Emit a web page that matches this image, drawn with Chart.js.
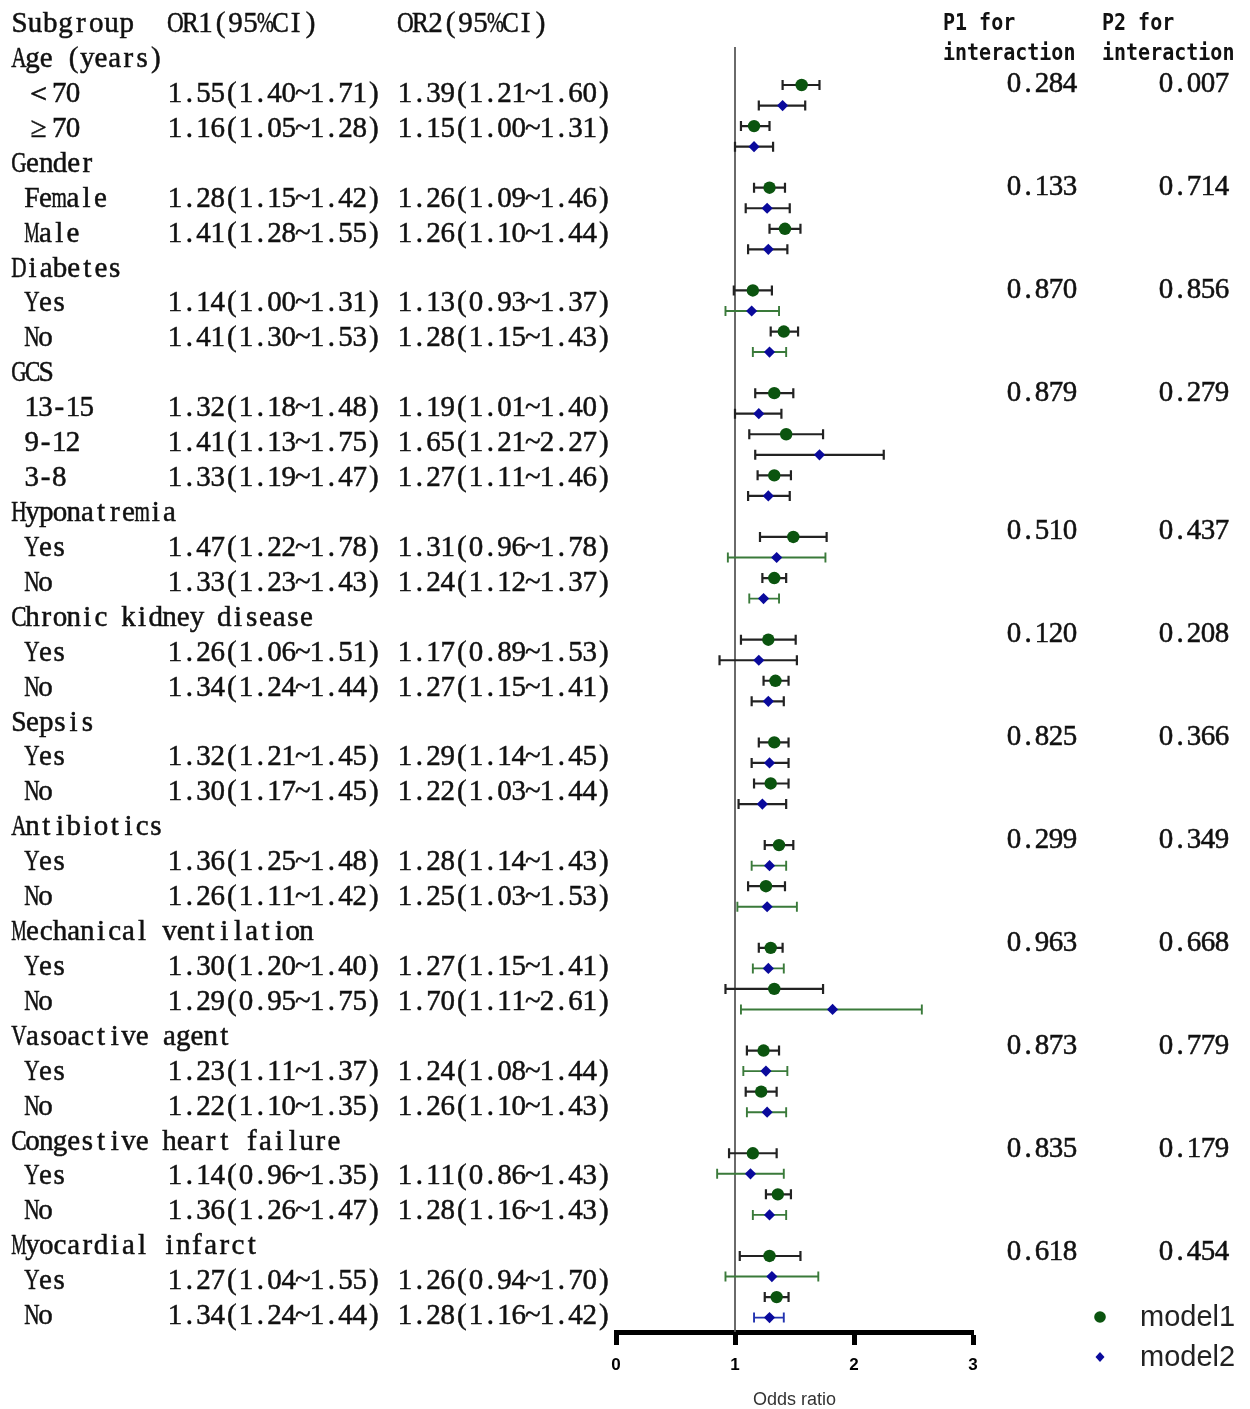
<!DOCTYPE html>
<html lang="en">
<head>
<meta charset="UTF-8">
<title>Subgroup forest plot</title>
<script src="https://cdn.jsdelivr.net/npm/chart.js"></script>
<style>
  html, body { margin: 0; padding: 0; background: #fff; }
  #wrap { width: 1250px; height: 1409px; }
</style>
</head>
<body>
<div id="wrap"><canvas id="forest" width="1250" height="1409"></canvas></div>
<script>
// ---- table text ----
const groups = ['Age (years)', 'Gender', 'Diabetes', 'GCS', 'Hyponatremia', 'Chronic kidney disease',
  'Sepsis', 'Antibiotics', 'Mechanical ventilation', 'Vasoactive agent', 'Congestive heart failure', 'Myocardial infarct'];
const groupSizes = [2, 2, 2, 3, 2, 2, 2, 2, 2, 2, 2, 2];
const subgroups = ['＜70', '≥70', 'Female', 'Male', 'Yes', 'No', '13-15', '9-12', '3-8', 'Yes', 'No', 'Yes', 'No',
  'Yes', 'No', 'Yes', 'No', 'Yes', 'No', 'Yes', 'No', 'Yes', 'No', 'Yes', 'No'];
const or1Text = ['1.55(1.40~1.71)', '1.16(1.05~1.28)', '1.28(1.15~1.42)', '1.41(1.28~1.55)', '1.14(1.00~1.31)',
  '1.41(1.30~1.53)', '1.32(1.18~1.48)', '1.41(1.13~1.75)', '1.33(1.19~1.47)', '1.47(1.22~1.78)', '1.33(1.23~1.43)',
  '1.26(1.06~1.51)', '1.34(1.24~1.44)', '1.32(1.21~1.45)', '1.30(1.17~1.45)', '1.36(1.25~1.48)', '1.26(1.11~1.42)',
  '1.30(1.20~1.40)', '1.29(0.95~1.75)', '1.23(1.11~1.37)', '1.22(1.10~1.35)', '1.14(0.96~1.35)', '1.36(1.26~1.47)',
  '1.27(1.04~1.55)', '1.34(1.24~1.44)'];
const or2Text = ['1.39(1.21~1.60)', '1.15(1.00~1.31)', '1.26(1.09~1.46)', '1.26(1.10~1.44)', '1.13(0.93~1.37)',
  '1.28(1.15~1.43)', '1.19(1.01~1.40)', '1.65(1.21~2.27)', '1.27(1.11~1.46)', '1.31(0.96~1.78)', '1.24(1.12~1.37)',
  '1.17(0.89~1.53)', '1.27(1.15~1.41)', '1.29(1.14~1.45)', '1.22(1.03~1.44)', '1.28(1.14~1.43)', '1.25(1.03~1.53)',
  '1.27(1.15~1.41)', '1.70(1.11~2.61)', '1.24(1.08~1.44)', '1.26(1.10~1.43)', '1.11(0.86~1.43)', '1.28(1.16~1.43)',
  '1.26(0.94~1.70)', '1.28(1.16~1.42)'];
const p1Text = ['0.284', '0.133', '0.870', '0.879', '0.510', '0.120', '0.825', '0.299', '0.963', '0.873', '0.835', '0.618'];
const p2Text = ['0.007', '0.714', '0.856', '0.279', '0.437', '0.208', '0.366', '0.349', '0.668', '0.779', '0.179', '0.454'];

// ---- plotted marks ----
const or1 = [1.56, 1.16, 1.29, 1.42, 1.15, 1.41, 1.33, 1.43, 1.33, 1.49, 1.33, 1.28, 1.34,
  1.33, 1.30, 1.37, 1.26, 1.30, 1.33, 1.24, 1.22, 1.15, 1.36, 1.29, 1.35];
const or1Low = [1.40, 1.05, 1.16, 1.29, 0.99, 1.30, 1.17, 1.12, 1.19, 1.21, 1.23, 1.05, 1.24,
  1.20, 1.16, 1.25, 1.11, 1.20, 0.92, 1.10, 1.09, 0.95, 1.26, 1.04, 1.25];
const or1High = [1.71, 1.29, 1.42, 1.55, 1.31, 1.53, 1.49, 1.74, 1.47, 1.77, 1.43, 1.51, 1.45,
  1.45, 1.45, 1.49, 1.42, 1.40, 1.74, 1.37, 1.35, 1.35, 1.47, 1.55, 1.45];
const or2 = [1.40, 1.16, 1.27, 1.28, 1.14, 1.29, 1.20, 1.71, 1.28, 1.35, 1.24, 1.20, 1.28,
  1.29, 1.23, 1.29, 1.27, 1.28, 1.82, 1.26, 1.27, 1.13, 1.29, 1.31, 1.29];
const or2Low = [1.20, 1.00, 1.09, 1.11, 0.92, 1.15, 1.00, 1.17, 1.11, 0.94, 1.12, 0.87, 1.14,
  1.14, 1.03, 1.14, 1.02, 1.15, 1.05, 1.07, 1.10, 0.85, 1.15, 0.92, 1.16];
const or2High = [1.59, 1.32, 1.46, 1.44, 1.37, 1.43, 1.39, 2.25, 1.46, 1.76, 1.37, 1.52, 1.41,
  1.45, 1.43, 1.43, 1.52, 1.41, 2.57, 1.44, 1.43, 1.41, 1.43, 1.70, 1.41];
const nullValue = 1;
const xTicks = [0, 1, 2, 3];

// styles
const GREEN = '#0b540f';
const BLUE = '#0a0a9c';
const BAR_BLACK = '#222';
const BAR_GREEN = '#3a7a3a';
const BAR_BLUE = '#2233b0';
const model2BarColours = ['k', 'k', 'k', 'k', 'g', 'g', 'k', 'k', 'k', 'g', 'g', 'k', 'k',
  'k', 'k', 'g', 'g', 'g', 'g', 'g', 'g', 'g', 'g', 'g', 'b'];
const barColour = { k: BAR_BLACK, g: BAR_GREEN, b: BAR_BLUE };

// slot positions on the y scale: two per subgroup, one blank between groups
const slot1 = [], slot2 = [];
let s = 0;
groupSizes.forEach(n => {
  for (let k = 0; k < n; k++) { slot1.push(s); slot2.push(s + 1); s += 2; }
  s += 1;
});

const TEXT = '#111';
const SERIF = '29px "Liberation Serif", "DejaVu Serif", serif';

// draws a string in fixed cells like a CJK half-width font
function drawCells(ctx, str, x, y, cell) {
  let cx = x;
  for (const ch of str) {
    const w = ch.charCodeAt(0) > 0x2000 ? cell * 2 : cell;
    const m = ctx.measureText(ch).width || 1;
    const sc = Math.min(1, (w * 1.12) / m);
    ctx.save();
    ctx.translate(cx + w / 2, y);
    ctx.scale(sc, 1);
    ctx.fillText(ch, 0, 0);
    ctx.strokeText(ch, 0, 0);
    ctx.restore();
    cx += w;
  }
}

const barsPlugin = {
  id: 'bars',
  beforeDatasetsDraw(chart) {
    const { ctx, chartArea, scales: { x, y } } = chart;
    ctx.save();
    // reference line at OR = 1
    ctx.strokeStyle = '#5a5a5a';
    ctx.lineWidth = 1.8;
    const rx = x.getPixelForValue(nullValue);
    ctx.beginPath();
    ctx.moveTo(rx, chartArea.top);
    ctx.lineTo(rx, chartArea.bottom);
    ctx.stroke();

    const bar = (lo, hi, sv, colour, lw) => {
      const x0 = x.getPixelForValue(lo), x1 = x.getPixelForValue(hi), py = y.getPixelForValue(sv);
      ctx.strokeStyle = colour;
      ctx.lineWidth = lw;
      ctx.beginPath();
      ctx.moveTo(x0, py); ctx.lineTo(x1, py);
      ctx.moveTo(x0, py - 5); ctx.lineTo(x0, py + 5);
      ctx.moveTo(x1, py - 5); ctx.lineTo(x1, py + 5);
      ctx.stroke();
    };
    subgroups.forEach((_, i) => {
      bar(or1Low[i], or1High[i], slot1[i], BAR_BLACK, 2.2);
      const c = model2BarColours[i];
      bar(or2Low[i], or2High[i], slot2[i], barColour[c], c === 'k' ? 2.2 : 1.9);
    });
    ctx.restore();
  }
};

const tablePlugin = {
  id: 'table',
  afterDraw(chart) {
    const ctx = chart.ctx;
    const rowY = r => 24.5 + 34.92 * r;
    ctx.save();
    ctx.fillStyle = TEXT;
    ctx.strokeStyle = TEXT;
    ctx.lineWidth = 0.5;
    ctx.textAlign = 'center';
    ctx.textBaseline = 'middle';
    ctx.font = SERIF;
    drawCells(ctx, 'Subgroup', 12, rowY(0), 15.3);
    drawCells(ctx, 'OR1(95%CI)', 168, rowY(0), 15);
    drawCells(ctx, 'OR2(95%CI)', 398, rowY(0), 15);

    let row = 1, idx = 0;
    groups.forEach((g, gi) => {
      drawCells(ctx, g, 12, rowY(row), 13.7);
      const pr = row + 0.72 - 0.05 * gi;
      drawCells(ctx, p1Text[gi], 1077 - 5 * 14, rowY(pr), 14);
      drawCells(ctx, p2Text[gi], 1229 - 5 * 14, rowY(pr), 14);
      row++;
      for (let k = 0; k < groupSizes[gi]; k++) {
        drawCells(ctx, subgroups[idx], 25, rowY(row), 13.7);
        drawCells(ctx, or1Text[idx], 168, rowY(row), 14.2);
        drawCells(ctx, or2Text[idx], 398, rowY(row), 14.2);
        row++; idx++;
      }
    });

    // interaction headers
    ctx.textAlign = 'left';
    ctx.font = 'bold 20px "DejaVu Sans Mono", monospace';
    const head = (t, hx, hy) => {
      ctx.save();
      ctx.translate(hx, hy);
      ctx.scale(1, 1.14);
      ctx.fillText(t, 0, 0);
      ctx.restore();
    };
    head('P1 for', 943, 24);
    head('interaction', 943, 54);
    head('P2 for', 1102, 24);
    head('interaction', 1102, 54);

    // legend
    ctx.fillStyle = GREEN;
    ctx.beginPath();
    ctx.arc(1100, 1317, 5.8, 0, Math.PI * 2);
    ctx.fill();
    ctx.fillStyle = BLUE;
    ctx.beginPath();
    ctx.moveTo(1100, 1352); ctx.lineTo(1104.5, 1357); ctx.lineTo(1100, 1362); ctx.lineTo(1095.5, 1357);
    ctx.closePath();
    ctx.fill();
    ctx.fillStyle = '#222';
    ctx.font = '29px "Liberation Sans", Arial, sans-serif';
    ctx.fillText('model1', 1140, 1318);
    ctx.fillText('model2', 1140, 1358);
    ctx.restore();
  }
};

new Chart(document.getElementById('forest'), {
  type: 'scatter',
  data: {
    datasets: [
      {
        label: 'model1',
        data: or1.map((v, i) => ({ x: v, y: slot1[i] })),
        pointStyle: 'circle',
        pointRadius: 6.2,
        backgroundColor: GREEN,
        borderColor: GREEN,
        borderWidth: 0
      },
      {
        label: 'model2',
        data: or2.map((v, i) => ({ x: v, y: slot2[i] })),
        pointStyle: 'rectRot',
        pointRadius: 5.6,
        backgroundColor: BLUE,
        borderColor: BLUE,
        borderWidth: 0
      }
    ]
  },
  options: {
    responsive: false,
    animation: false,
    devicePixelRatio: 1,
    layout: { padding: { left: 616, right: 277, top: 47, bottom: 0.7 } },
    plugins: { legend: { display: false }, tooltip: { enabled: false } },
    scales: {
      x: {
        type: 'linear',
        min: xTicks[0],
        max: xTicks[xTicks.length - 1],
        afterBuildTicks: sc => { sc.ticks = xTicks.map(v => ({ value: v })); },
        border: { display: true, color: '#000', width: 5 },
        grid: { display: true, drawOnChartArea: false, drawTicks: true, tickLength: 13, tickWidth: 5, tickColor: '#000' },
        ticks: { padding: 10, color: '#000', font: { family: '"Liberation Sans", Arial', size: 17, weight: 'bold' } },
        title: { display: true, text: 'Odds ratio', color: '#333', padding: { top: 4.3, bottom: -3 },
          font: { family: '"Liberation Sans", Arial', size: 18 } }
      },
      y: {
        type: 'linear',
        display: false,
        reverse: true,
        min: -1.85,
        max: 60.7
      }
    }
  },
  plugins: [barsPlugin, tablePlugin]
});
</script>
</body>
</html>
